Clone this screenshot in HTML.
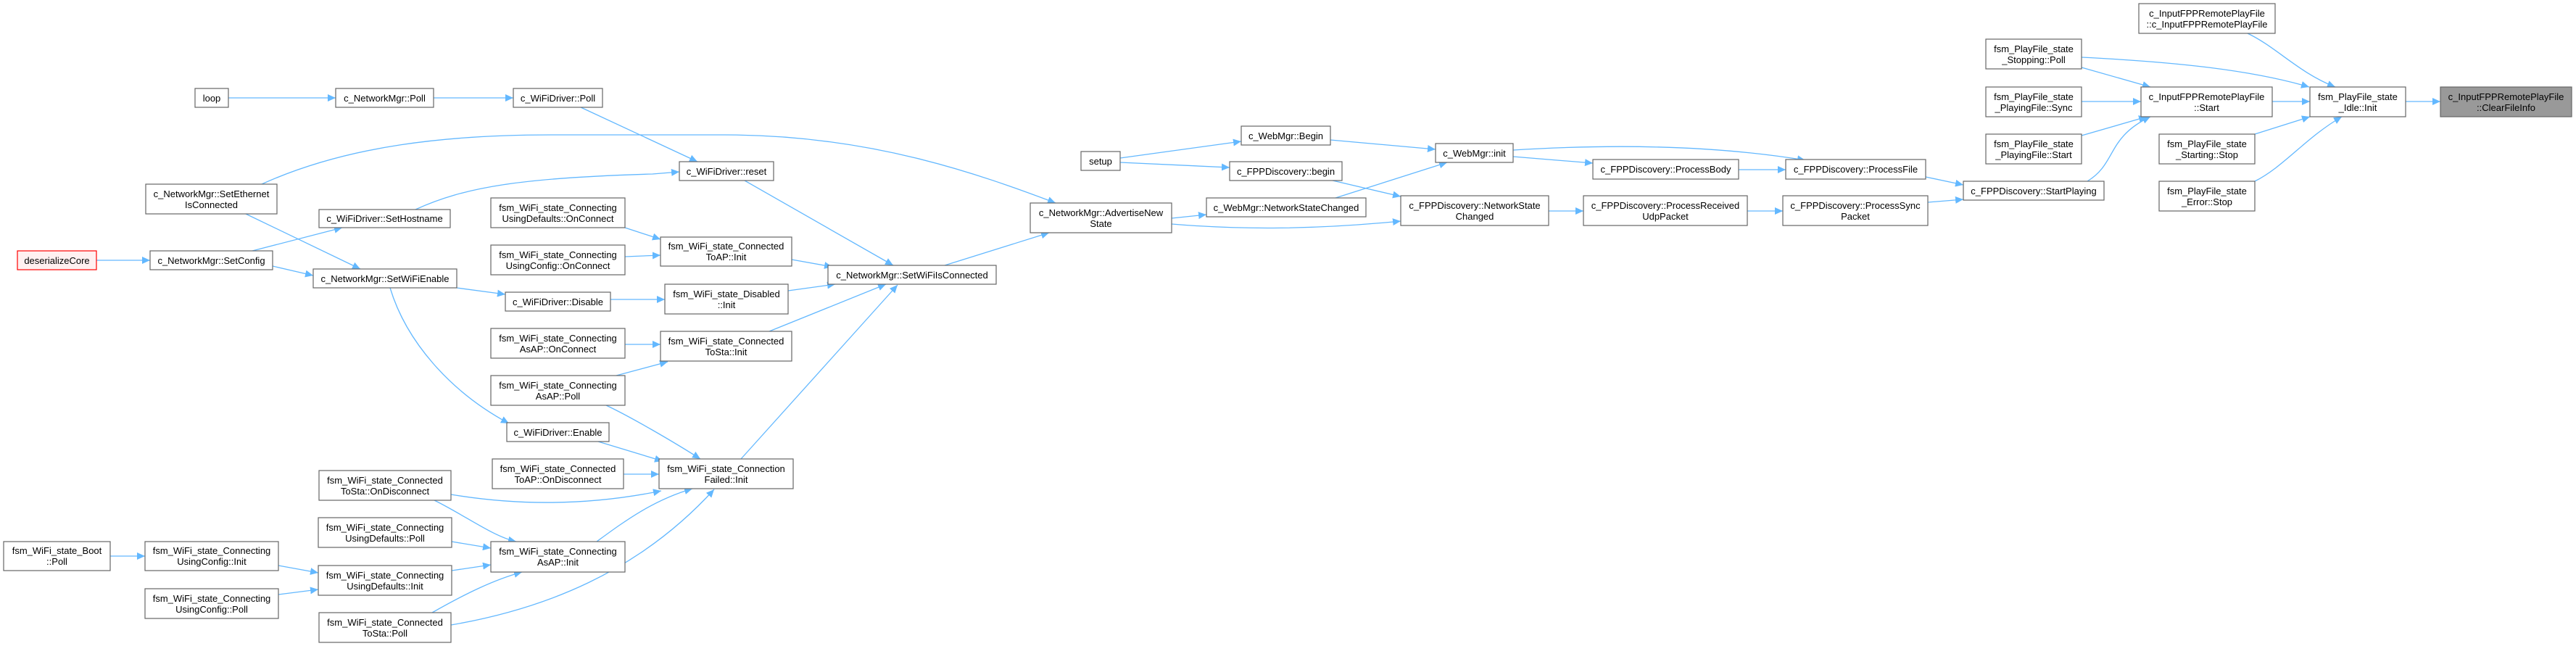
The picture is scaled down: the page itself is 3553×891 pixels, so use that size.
<!DOCTYPE html>
<html><head><meta charset="utf-8"><style>
html,body{margin:0;padding:0;background:#fff;}
svg{display:block;}
text{font-family:"Liberation Sans",sans-serif;font-size:13px;fill:#000;text-anchor:middle;}
.b{fill:#fff;stroke:#666;stroke-width:1.2;}
.e{fill:none;stroke:#63b8ff;stroke-width:1.3;marker-end:url(#a);}
</style></head><body>
<svg width="3553" height="891" viewBox="0 0 3553 891" xmlns="http://www.w3.org/2000/svg">
<defs><marker id="a" markerUnits="userSpaceOnUse" markerWidth="12" markerHeight="10" refX="11" refY="5" orient="auto"><polygon points="0,0 11,5 0,10" fill="#63b8ff"/></marker></defs>
<g>
<path class="e" d="M315,135 L463,135"/>
<path class="e" d="M598,135 L708,135"/>
<path class="e" d="M801,148 L962,223"/>
<path class="e" d="M361,254 C480,200 620,186 760,186 L1000,186 C1200,186 1350,240 1456,280"/>
<path class="e" d="M339,295 L497,371"/>
<path class="e" d="M573,289 C640,258 720,245 900,240 L937,237"/>
<path class="e" d="M133,359 L207,359"/>
<path class="e" d="M348,346 L472,314"/>
<path class="e" d="M376,367 L432,380"/>
<path class="e" d="M630,397 L697,406"/>
<path class="e" d="M538,397 C560,470 620,540 702,584"/>
<path class="e" d="M862,314 L911,330"/>
<path class="e" d="M862,354 L911,352"/>
<path class="e" d="M842,413 L917,413"/>
<path class="e" d="M862,475 L911,475"/>
<path class="e" d="M850,518 L921,499"/>
<path class="e" d="M836,559 C870,575 930,610 966,633"/>
<path class="e" d="M825,609 L914,636"/>
<path class="e" d="M860,654 L909,654"/>
<path class="e" d="M622,682 C700,695 800,700 912,677"/>
<path class="e" d="M599,690 C640,710 680,740 712,747"/>
<path class="e" d="M823,747 C860,720 900,690 955,674"/>
<path class="e" d="M623,747 L677,756"/>
<path class="e" d="M623,787 L677,779"/>
<path class="e" d="M596,845 C640,820 680,800 720,789"/>
<path class="e" d="M622,862 C750,840 880,790 985,675"/>
<path class="e" d="M152,767 L200,767"/>
<path class="e" d="M384,780 L439,790"/>
<path class="e" d="M384,820 L439,813"/>
<path class="e" d="M1027,249 L1232,366"/>
<path class="e" d="M1092,358 L1148,368"/>
<path class="e" d="M1087,401 L1152,392"/>
<path class="e" d="M1061,457 L1222,392"/>
<path class="e" d="M1022,633 L1238,393"/>
<path class="e" d="M1303,366 L1447,321"/>
<path class="e" d="M1616,301 L1664,296"/>
<path class="e" d="M1616,309 C1700,316 1800,318 1932,305"/>
<path class="e" d="M1545,218 L1712,195"/>
<path class="e" d="M1545,224 L1696,231"/>
<path class="e" d="M1835,193 L1980,206"/>
<path class="e" d="M1842,273 L1996,224"/>
<path class="e" d="M1838,249 L1932,271"/>
<path class="e" d="M2087,216 L2197,225"/>
<path class="e" d="M2087,207 C2200,200 2350,198 2490,221"/>
<path class="e" d="M2398,234 L2463,234"/>
<path class="e" d="M2136,291 L2184,291"/>
<path class="e" d="M2410,291 L2459,291"/>
<path class="e" d="M2656,244 L2708,255"/>
<path class="e" d="M2659,279 L2708,275"/>
<path class="e" d="M2879,250 C2920,225 2905,190 2966,161"/>
<path class="e" d="M2871,93 L2966,120"/>
<path class="e" d="M2871,79 C2990,85 3100,95 3185,120"/>
<path class="e" d="M2871,140 L2953,140"/>
<path class="e" d="M2871,187 L2961,161"/>
<path class="e" d="M3100,46 C3140,65 3170,100 3221,120"/>
<path class="e" d="M3134,140 L3186,140"/>
<path class="e" d="M3110,185 L3186,161"/>
<path class="e" d="M3110,250 C3150,230 3180,190 3230,161"/>
<path class="e" d="M3318,140 L3366,140"/>
</g>
<g>
<rect class="b" x="269" y="122" width="46" height="26"/><text x="292" y="140">loop</text>
<rect class="b" x="463" y="122" width="135" height="26"/><text x="530.5" y="140">c_NetworkMgr::Poll</text>
<rect class="b" x="708" y="122" width="123" height="26"/><text x="769.5" y="140">c_WiFiDriver::Poll</text>
<rect class="b" x="201" y="254" width="181" height="41"/><text x="291.5" y="272">c_NetworkMgr::SetEthernet</text><text x="291.5" y="287">IsConnected</text>
<rect class="b" x="440" y="289" width="181" height="25"/><text x="530.5" y="306">c_WiFiDriver::SetHostname</text>
<rect class="b" x="677" y="273" width="185" height="41"/><text x="769.5" y="291">fsm_WiFi_state_Connecting</text><text x="769.5" y="306">UsingDefaults::OnConnect</text>
<rect x="24" y="346" width="109" height="26" fill="#fff0f0" stroke="#f00" stroke-width="1.2"/><text x="78.5" y="364">deserializeCore</text>
<rect class="b" x="207" y="346" width="169" height="26"/><text x="291.5" y="364">c_NetworkMgr::SetConfig</text>
<rect class="b" x="677" y="338" width="185" height="41"/><text x="769.5" y="356">fsm_WiFi_state_Connecting</text><text x="769.5" y="371">UsingConfig::OnConnect</text>
<rect class="b" x="432" y="371" width="198" height="26"/><text x="531" y="389">c_NetworkMgr::SetWiFiEnable</text>
<rect class="b" x="697" y="403" width="145" height="26"/><text x="769.5" y="421">c_WiFiDriver::Disable</text>
<rect class="b" x="677" y="453" width="185" height="41"/><text x="769.5" y="471">fsm_WiFi_state_Connecting</text><text x="769.5" y="486">AsAP::OnConnect</text>
<rect class="b" x="677" y="518" width="185" height="41"/><text x="769.5" y="536">fsm_WiFi_state_Connecting</text><text x="769.5" y="551">AsAP::Poll</text>
<rect class="b" x="699" y="583" width="141" height="26"/><text x="769.5" y="601">c_WiFiDriver::Enable</text>
<rect class="b" x="679" y="633" width="181" height="41"/><text x="769.5" y="651">fsm_WiFi_state_Connected</text><text x="769.5" y="666">ToAP::OnDisconnect</text>
<rect class="b" x="440" y="649" width="182" height="41"/><text x="531" y="667">fsm_WiFi_state_Connected</text><text x="531" y="682">ToSta::OnDisconnect</text>
<rect class="b" x="439" y="714" width="184" height="41"/><text x="531" y="732">fsm_WiFi_state_Connecting</text><text x="531" y="747">UsingDefaults::Poll</text>
<rect class="b" x="677" y="747" width="185" height="42"/><text x="769.5" y="765">fsm_WiFi_state_Connecting</text><text x="769.5" y="780">AsAP::Init</text>
<rect class="b" x="5" y="747" width="147" height="40"/><text x="78.5" y="764">fsm_WiFi_state_Boot</text><text x="78.5" y="779">::Poll</text>
<rect class="b" x="200" y="747" width="184" height="40"/><text x="292" y="764">fsm_WiFi_state_Connecting</text><text x="292" y="779">UsingConfig::Init</text>
<rect class="b" x="439" y="780" width="184" height="41"/><text x="531" y="798">fsm_WiFi_state_Connecting</text><text x="531" y="813">UsingDefaults::Init</text>
<rect class="b" x="200" y="812" width="184" height="41"/><text x="292" y="830">fsm_WiFi_state_Connecting</text><text x="292" y="845">UsingConfig::Poll</text>
<rect class="b" x="440" y="845" width="182" height="41"/><text x="531" y="863">fsm_WiFi_state_Connected</text><text x="531" y="878">ToSta::Poll</text>
<rect class="b" x="937" y="223" width="130" height="26"/><text x="1002" y="241">c_WiFiDriver::reset</text>
<rect class="b" x="911" y="327" width="181" height="40"/><text x="1001.5" y="344">fsm_WiFi_state_Connected</text><text x="1001.5" y="359">ToAP::Init</text>
<rect class="b" x="1142" y="366" width="232" height="26"/><text x="1258" y="384">c_NetworkMgr::SetWiFiIsConnected</text>
<rect class="b" x="917" y="392" width="170" height="41"/><text x="1002" y="410">fsm_WiFi_state_Disabled</text><text x="1002" y="425">::Init</text>
<rect class="b" x="911" y="457" width="181" height="41"/><text x="1001.5" y="475">fsm_WiFi_state_Connected</text><text x="1001.5" y="490">ToSta::Init</text>
<rect class="b" x="909" y="633" width="185" height="41"/><text x="1001.5" y="651">fsm_WiFi_state_Connection</text><text x="1001.5" y="666">Failed::Init</text>
<rect class="b" x="1421" y="280" width="195" height="41"/><text x="1518.5" y="298">c_NetworkMgr::AdvertiseNew</text><text x="1518.5" y="313">State</text>
<rect class="b" x="1491" y="209" width="54" height="26"/><text x="1518" y="227">setup</text>
<rect class="b" x="1712" y="174" width="123" height="26"/><text x="1773.5" y="192">c_WebMgr::Begin</text>
<rect class="b" x="1696" y="223" width="155" height="26"/><text x="1773.5" y="241">c_FPPDiscovery::begin</text>
<rect class="b" x="1664" y="273" width="220" height="26"/><text x="1774" y="291">c_WebMgr::NetworkStateChanged</text>
<rect class="b" x="1980" y="198" width="107" height="26"/><text x="2033.5" y="216">c_WebMgr::init</text>
<rect class="b" x="2197" y="220" width="201" height="27"/><text x="2297.5" y="238">c_FPPDiscovery::ProcessBody</text>
<rect class="b" x="2463" y="220" width="193" height="27"/><text x="2559.5" y="238">c_FPPDiscovery::ProcessFile</text>
<rect class="b" x="1932" y="270" width="204" height="41"/><text x="2034" y="288">c_FPPDiscovery::NetworkState</text><text x="2034" y="303">Changed</text>
<rect class="b" x="2184" y="270" width="226" height="41"/><text x="2297" y="288">c_FPPDiscovery::ProcessReceived</text><text x="2297" y="303">UdpPacket</text>
<rect class="b" x="2459" y="270" width="200" height="41"/><text x="2559" y="288">c_FPPDiscovery::ProcessSync</text><text x="2559" y="303">Packet</text>
<rect class="b" x="2950" y="5" width="188" height="41"/><text x="3044" y="23">c_InputFPPRemotePlayFile</text><text x="3044" y="38">::c_InputFPPRemotePlayFile</text>
<rect class="b" x="2739" y="54" width="132" height="41"/><text x="2805" y="72">fsm_PlayFile_state</text><text x="2805" y="87">_Stopping::Poll</text>
<rect class="b" x="2953" y="120" width="181" height="41"/><text x="3043.5" y="138">c_InputFPPRemotePlayFile</text><text x="3043.5" y="153">::Start</text>
<rect class="b" x="3186" y="120" width="132" height="41"/><text x="3252" y="138">fsm_PlayFile_state</text><text x="3252" y="153">_Idle::Init</text>
<rect x="3366" y="120" width="181" height="41" fill="#999" stroke="#666" stroke-width="1.2"/><text x="3456.5" y="138">c_InputFPPRemotePlayFile</text><text x="3456.5" y="153">::ClearFileInfo</text>
<rect class="b" x="2739" y="120" width="132" height="41"/><text x="2805" y="138">fsm_PlayFile_state</text><text x="2805" y="153">_PlayingFile::Sync</text>
<rect class="b" x="2739" y="185" width="132" height="41"/><text x="2805" y="203">fsm_PlayFile_state</text><text x="2805" y="218">_PlayingFile::Start</text>
<rect class="b" x="2978" y="185" width="132" height="41"/><text x="3044" y="203">fsm_PlayFile_state</text><text x="3044" y="218">_Starting::Stop</text>
<rect class="b" x="2978" y="250" width="132" height="41"/><text x="3044" y="268">fsm_PlayFile_state</text><text x="3044" y="283">_Error::Stop</text>
<rect class="b" x="2708" y="250" width="194" height="26"/><text x="2805" y="268">c_FPPDiscovery::StartPlaying</text>
</g>
</svg>
</body></html>
